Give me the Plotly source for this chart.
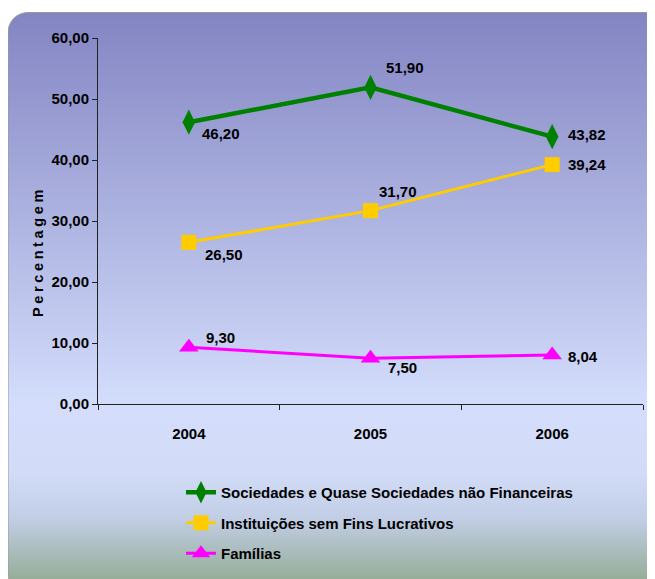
import base64
import plotly.graph_objects as go

# data
anos = ["2004", "2005", "2006"]
sociedades = [46.20, 51.90, 43.82]
instituicoes = [26.50, 31.70, 39.24]
familias = [9.30, 7.50, 8.04]

# a página tem 8px de margem no body
OFF = 8
W, H = 655 - OFF, 579 - OFF
FONT = "Liberation Sans, Arial, sans-serif"


def px(x):
    return (x - OFF) / W


def py(y):
    return 1 - (y - OFF) / H


# fundo em gradiente com cantos arredondados (svg embutido)
svg = f"""<svg xmlns='http://www.w3.org/2000/svg' width='{W}' height='{H}' viewBox='0 0 {W} {H}'>
<defs><linearGradient id='g' x1='0' y1='0' x2='0' y2='1'>
<stop offset='0' stop-color='#8385C3'/>
<stop offset='0.68' stop-color='#D4DEFC'/>
<stop offset='0.79' stop-color='#D2DCF8'/>
<stop offset='0.87' stop-color='#C2CEE6'/>
<stop offset='1' stop-color='#8CA687'/>
</linearGradient></defs>
<rect x='0' y='4.5' width='{W + 10}' height='{H + 10}' rx='20' ry='20' fill='url(#g)' stroke='#9a9a9a' stroke-width='1'/>
</svg>"""
bg = "data:image/svg+xml;base64," + base64.b64encode(svg.encode()).decode()

series = [
    ("Sociedades e Quase Sociedades não Financeiras", sociedades,
     dict(color="#008000", width=4.5), dict(symbol="diamond-tall", size=18, color="#008000"),
     [(11, -11), (13, 20), (14, 2)]),
    ("Instituições sem Fins Lucrativos", instituicoes,
     dict(color="#FFCC00", width=3), dict(symbol="square", size=15, color="#FFCC00"),
     [(14, -12), (6, 19), (14, 0)]),
    ("Famílias", familias,
     dict(color="#FF00FF", width=3), dict(symbol="triangle-up", size=17, color="#FF00FF"),
     [(15, 10), (15, -9), (14, -2)]),
]

fig = go.Figure()
anns = []
for i, (nome, vals, linha, marcador, desl) in enumerate(series):
    fig.add_trace(go.Scatter(x=anos, y=vals, name=nome, mode="lines+markers",
                             legendgroup=str(i), line=linha, marker=marcador,
                             hoverinfo="skip"))
    # rótulos de dados (x pelo índice da categoria)
    for j, (v, (dx, dy)) in enumerate(zip(vals, desl)):
        anns.append(dict(x=j, y=v, xref="x", yref="y", text=f"{v:.2f}".replace(".", ","),
                         showarrow=False, xanchor="left", yanchor="middle",
                         xshift=dx, yshift=dy, font=dict(size=15)))

anns.append(dict(text="\u2005".join("Percentagem"),
                 xref="paper", yref="paper", x=px(28), y=py(254),
                 showarrow=False, textangle=-90, font=dict(size=14.5)))

fig.update_layout(
    width=W, height=H,
    margin=dict(l=0, r=0, t=0, b=0),
    paper_bgcolor="white", plot_bgcolor="rgba(0,0,0,0)",
    separators=",.",
    font=dict(family=FONT, size=15, color="black", weight="bold"),
    images=[dict(source=bg, xref="paper", yref="paper", x=0, y=1,
                 sizex=1, sizey=1, sizing="stretch", layer="below")],
    xaxis=dict(domain=[px(98), px(643)], range=[-0.5, 2.5], type="category",
               showline=True, linecolor="#222", linewidth=1,
               ticks="outside", tickson="boundaries", ticklen=5, tickcolor="#222",
               ticklabelstandoff=16,
               showgrid=False, zeroline=False, automargin=False),
    yaxis=dict(domain=[py(404), py(38)], range=[0, 60], dtick=10,
               tickformat=".2f", showline=True, linecolor="#222", linewidth=1,
               ticks="outside", ticklen=5, tickcolor="#222",
               showgrid=False, zeroline=False, automargin=False),
    legend=dict(x=px(181), y=py(476), xanchor="left", yanchor="top",
                bgcolor="rgba(0,0,0,0)", tracegroupgap=8),
    annotations=anns,
)

fig.write_html("out.html")
